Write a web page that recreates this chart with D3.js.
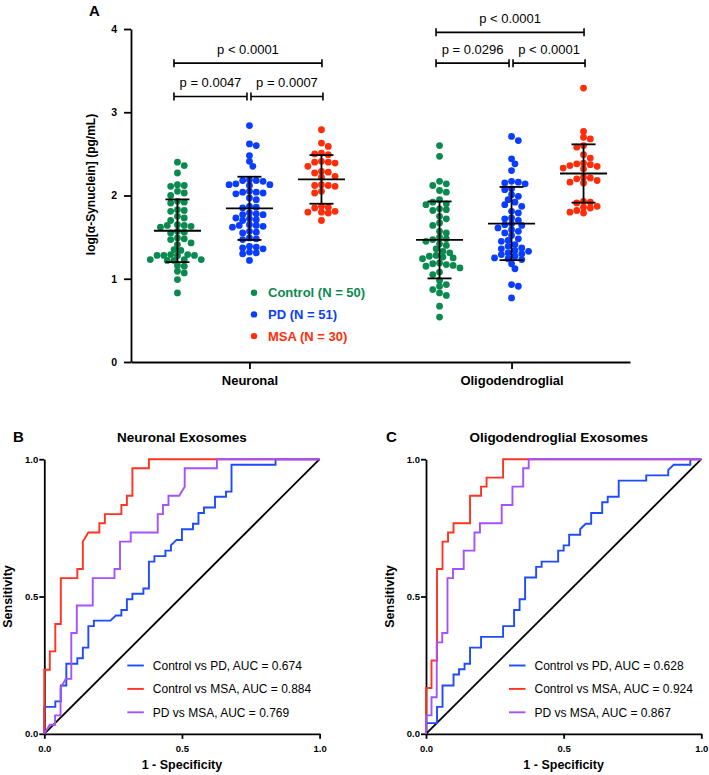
<!DOCTYPE html>
<html>
<head>
<meta charset="utf-8">
<script src="https://cdn.jsdelivr.net/npm/d3@7"></script>
<style>
  body { margin: 0; background: #fff; }
  text { white-space: pre; }
</style>
</head>
<body>
<svg class="chart" width="709" height="775"></svg>
<script>
var regions = ["Neuronal", "Oligodendroglial"];
var cohorts = ["Control", "PD", "MSA"];

// log[a-Synuclein] per subject (panel A)
var neuronalControl = [2.40, 2.36, 2.27, 2.13, 2.12, 2.11, 2.05, 2.03, 2.00, 1.93,
    1.92, 1.91, 1.83, 1.82, 1.81, 1.75, 1.73, 1.70, 1.65, 1.64,
    1.64, 1.63, 1.62, 1.57, 1.56, 1.55, 1.49, 1.48, 1.47, 1.43,
    1.41, 1.35, 1.34, 1.29, 1.29, 1.28, 1.28, 1.28, 1.28, 1.23,
    1.23, 1.23, 1.22, 1.22, 1.16, 1.15, 1.09, 1.07, 0.99, 0.83];
var neuronalPD = [2.84, 2.62, 2.60, 2.48, 2.41, 2.35, 2.19, 2.18, 2.18, 2.17,
    2.14, 2.13, 2.13, 2.12, 2.05, 2.04, 2.04, 2.03, 2.02, 1.97,
    1.95, 1.87, 1.86, 1.85, 1.79, 1.78, 1.77, 1.77, 1.73, 1.72,
    1.71, 1.70, 1.65, 1.64, 1.64, 1.63, 1.62, 1.57, 1.56, 1.55,
    1.49, 1.48, 1.47, 1.39, 1.38, 1.37, 1.36, 1.32, 1.31, 1.30, 1.22];
var neuronalMSA = [2.79, 2.63, 2.59, 2.51, 2.50, 2.49, 2.41, 2.40, 2.40, 2.39,
    2.35, 2.29, 2.28, 2.27, 2.23, 2.22, 2.13, 2.12, 2.12, 2.11,
    2.05, 2.03, 1.87, 1.86, 1.85, 1.81, 1.80, 1.80, 1.79, 1.70];
var oligoControl = [2.60, 2.47, 2.17, 2.14, 2.12, 2.06, 2.04, 1.95, 1.92, 1.90,
    1.89, 1.84, 1.83, 1.82, 1.75, 1.72, 1.67, 1.64, 1.57, 1.55,
    1.50, 1.48, 1.47, 1.45, 1.42, 1.40, 1.36, 1.33, 1.31, 1.28,
    1.27, 1.26, 1.25, 1.24, 1.19, 1.18, 1.17, 1.16, 1.15, 1.13,
    1.08, 1.05, 0.98, 0.93, 0.91, 0.87, 0.83, 0.80, 0.67, 0.54];
var oligoPD = [2.71, 2.66, 2.44, 2.38, 2.30, 2.17, 2.16, 2.15, 2.14, 2.08,
    2.07, 2.01, 1.99, 1.95, 1.92, 1.89, 1.87, 1.81, 1.79, 1.73,
    1.72, 1.70, 1.66, 1.65, 1.64, 1.61, 1.59, 1.57, 1.55, 1.52,
    1.48, 1.46, 1.45, 1.41, 1.39, 1.37, 1.36, 1.34, 1.33, 1.29,
    1.30, 1.31, 1.27, 1.25, 1.24, 1.23, 1.18, 1.12, 0.93, 0.91, 0.77];
var oligoMSA = [3.29, 2.77, 2.70, 2.68, 2.60, 2.58, 2.49, 2.45, 2.39, 2.38,
    2.37, 2.33, 2.32, 2.36, 2.35, 2.21, 2.16, 2.15, 2.22, 2.20,
    2.18, 1.93, 1.92, 1.91, 1.87, 1.86, 1.85, 1.82, 1.80, 1.79];

var yTicksA = [0, 1, 2, 3, 4];
var pNeuronal = ["p = 0.0047", "p = 0.0007", "p < 0.0001"];
var pOligo = ["p = 0.0296", "p < 0.0001", "p < 0.0001"];

// ROC points [1 - specificity, sensitivity] (panels B, C)
var rocTicks = [0, 0.5, 1];
var comparisons = ["Control vs PD", "Control vs MSA", "PD vs MSA"];
var aucNeuronal = [0.674, 0.884, 0.769];
var aucOligo = [0.628, 0.924, 0.867];

var rocNeuCtrlPD = [[0, 0], [0, 0.098], [0.04, 0.098], [0.04, 0.118], [0.06, 0.118], [0.06, 0.176],
    [0.08, 0.176], [0.08, 0.255], [0.12, 0.255], [0.12, 0.275], [0.14, 0.275], [0.14, 0.314],
    [0.16, 0.314], [0.16, 0.392], [0.18, 0.392], [0.18, 0.412], [0.24, 0.412], [0.26, 0.431],
    [0.28, 0.431], [0.28, 0.451], [0.30, 0.451], [0.30, 0.49], [0.32, 0.49], [0.32, 0.51],
    [0.36, 0.51], [0.36, 0.529], [0.38, 0.529], [0.38, 0.627], [0.40, 0.627], [0.40, 0.647],
    [0.44, 0.647], [0.44, 0.667], [0.46, 0.667], [0.46, 0.686], [0.48, 0.706], [0.50, 0.706],
    [0.50, 0.745], [0.54, 0.745], [0.54, 0.765], [0.56, 0.765], [0.56, 0.804], [0.58, 0.804],
    [0.58, 0.824], [0.62, 0.824], [0.62, 0.863], [0.66, 0.863], [0.66, 0.882], [0.68, 0.882],
    [0.68, 0.98], [0.84, 0.98], [0.84, 1], [1, 1]];
var rocNeuCtrlMSA = [[0, 0], [0, 0.233], [0.02, 0.233], [0.02, 0.3], [0.04, 0.3], [0.04, 0.4],
    [0.06, 0.4], [0.06, 0.567], [0.12, 0.567], [0.12, 0.6], [0.14, 0.6], [0.14, 0.7],
    [0.16, 0.733], [0.20, 0.733], [0.20, 0.767], [0.22, 0.767], [0.22, 0.8], [0.28, 0.8],
    [0.28, 0.833], [0.30, 0.833], [0.30, 0.867], [0.32, 0.867], [0.32, 0.967], [0.38, 0.967],
    [0.38, 1], [1, 1]];
var rocNeuPDMSA = [[0, 0], [0.02, 0.033], [0.039, 0.033], [0.039, 0.067], [0.059, 0.067],
    [0.059, 0.167], [0.078, 0.2], [0.098, 0.2], [0.098, 0.367], [0.118, 0.367], [0.118, 0.467],
    [0.176, 0.467], [0.176, 0.567], [0.255, 0.567], [0.255, 0.6], [0.275, 0.6], [0.275, 0.7],
    [0.314, 0.7], [0.314, 0.733], [0.412, 0.733], [0.412, 0.8], [0.431, 0.8], [0.431, 0.833],
    [0.451, 0.833], [0.451, 0.867], [0.49, 0.867], [0.51, 0.9], [0.51, 0.967], [0.627, 0.967],
    [0.627, 1], [1, 1]];
var rocOliCtrlPD = [[0, 0], [0, 0.039], [0.04, 0.039], [0.04, 0.098], [0.06, 0.098], [0.06, 0.176],
    [0.10, 0.176], [0.10, 0.216], [0.12, 0.216], [0.12, 0.235], [0.14, 0.235], [0.14, 0.255],
    [0.16, 0.255], [0.16, 0.314], [0.20, 0.314], [0.20, 0.353], [0.28, 0.353], [0.28, 0.392],
    [0.32, 0.392], [0.32, 0.451], [0.34, 0.451], [0.34, 0.49], [0.36, 0.49], [0.36, 0.569],
    [0.40, 0.569], [0.40, 0.608], [0.42, 0.608], [0.42, 0.627], [0.48, 0.627], [0.48, 0.667],
    [0.50, 0.667], [0.50, 0.686], [0.52, 0.686], [0.52, 0.725], [0.56, 0.725], [0.56, 0.745],
    [0.58, 0.765], [0.60, 0.765], [0.60, 0.804], [0.64, 0.804], [0.64, 0.843], [0.66, 0.843],
    [0.66, 0.863], [0.70, 0.863], [0.70, 0.922], [0.80, 0.922], [0.80, 0.941], [0.88, 0.941],
    [0.88, 0.961], [0.90, 0.98], [0.96, 0.98], [0.96, 1], [1, 1]];
var rocOliCtrlMSA = [[0, 0], [0, 0.167], [0.02, 0.167], [0.02, 0.267], [0.04, 0.267], [0.04, 0.6],
    [0.06, 0.6], [0.06, 0.7], [0.08, 0.7], [0.08, 0.733], [0.10, 0.733], [0.10, 0.767],
    [0.16, 0.767], [0.16, 0.867], [0.20, 0.867], [0.20, 0.9], [0.22, 0.9], [0.22, 0.933],
    [0.28, 0.933], [0.28, 1], [1, 1]];
var rocOliPDMSA = [[0, 0], [0, 0.067], [0.02, 0.067], [0.02, 0.133], [0.039, 0.133], [0.039, 0.333],
    [0.059, 0.333], [0.059, 0.367], [0.078, 0.367], [0.078, 0.567], [0.098, 0.567], [0.098, 0.6],
    [0.137, 0.6], [0.137, 0.667], [0.176, 0.667], [0.176, 0.733], [0.196, 0.733], [0.196, 0.767],
    [0.275, 0.767], [0.275, 0.833], [0.314, 0.833], [0.314, 0.9], [0.353, 0.9], [0.353, 0.967],
    [0.373, 0.967], [0.373, 1], [1, 1]];
var chanceLine = [[0, 0], [1, 1]];

function show() {
    'use strict';

    var font = '"Liberation Sans", Arial, Helvetica, sans-serif';
    var svg = d3.select(".chart").attr("font-family", font);

    var color = d3.scaleOrdinal().domain(cohorts)
        .range(["#0b8a50", "#0a3dff", "#ff2d0a"]);
    var rocColor = ["#1f4bff", "#ff3320", "#a452ff"];

    function styleAxis(g, size) {
        g.select(".domain").attr("stroke", "#000").attr("stroke-width", 1.8);
        g.selectAll(".tick line").attr("stroke", "#000").attr("stroke-width", 1.8);
        g.selectAll(".tick text")
            .attr("font-family", font)
            .attr("font-weight", "bold")
            .attr("font-size", size)
            .attr("fill", "#000");
    }

    // swarm on a half-diameter grid; neighbours may overlap a little,
    // new dots go to the less crowded side
    function swarm(values, y, d) {
        var pts = values.map(function (v) { return { v: v, y: y(v), dx: 0 }; })
            .sort(function (a, b) { return b.v - a.v; });
        var placed = [];
        var minDist = 0.8 * d;
        function free(p, dx) {
            return !placed.some(function (q) {
                var ex = q.dx - dx, ey = q.y - p.y;
                return ex * ex + ey * ey < minDist * minDist;
            });
        }
        function crowd(p, sign) {
            return placed.filter(function (q) {
                return Math.abs(q.y - p.y) < 2 * d && q.dx * sign > 0;
            }).length;
        }
        pts.forEach(function (p) {
            if (free(p, 0)) { p.dx = 0; placed.push(p); return; }
            for (var k = 1; k < 60; k++) {
                var off = k * d / 2;
                var r = free(p, off), l = free(p, -off);
                if (r && l) {
                    p.dx = crowd(p, 1) <= crowd(p, -1) ? off : -off;
                    break;
                }
                if (r) { p.dx = off; break; }
                if (l) { p.dx = -off; break; }
            }
            placed.push(p);
        });
        return pts;
    }

    // ---------- panel A ----------
    var y = d3.scaleLinear().domain([0, 4]).range([362, 29]);
    var xRegion = d3.scalePoint().domain(regions).range([131, 630]).padding(0.452);
    var xCohort = d3.scalePoint().domain(cohorts).range([-72, 72]);
    var panelA = svg.append("g");

    var yAxis = panelA.append("g")
        .attr("transform", "translate(131,0)")
        .call(d3.axisLeft(y).tickValues(yTicksA).tickFormat(d3.format("d"))
            .tickSize(7).tickSizeOuter(0).tickPadding(7));
    styleAxis(yAxis, 10.5);

    var xAxis = panelA.append("g")
        .attr("transform", "translate(0,362)")
        .call(d3.axisBottom(xRegion).tickSize(7).tickSizeOuter(0).tickPadding(7));
    styleAxis(xAxis, 13);

    panelA.append("text")
        .attr("transform", "translate(95," + (y(2) - 11) + ") rotate(-90)")
        .attr("text-anchor", "middle")
        .attr("font-weight", "bold")
        .attr("font-size", 12)
        .text("log[α-Synuclein] (pg/mL)");

    panelA.append("text")
        .attr("x", 89).attr("y", 15.5)
        .attr("font-weight", "bold").attr("font-size", 15)
        .text("A");

    var seriesA = [[neuronalControl, neuronalPD, neuronalMSA], [oligoControl, oligoPD, oligoMSA]];

    regions.forEach(function (region, ri) {
        cohorts.forEach(function (cohort, ci) {
            var values = seriesA[ri][ci];
            var cx = xRegion(region) + xCohort(cohort);
            var pts = swarm(values, y, 6.8);

            panelA.append("g").selectAll("circle").data(pts).enter()
                .append("circle")
                .attr("cx", function (d) { return cx + d.dx; })
                .attr("cy", function (d) { return d.y; })
                .attr("r", 3.4)
                .attr("fill", color(cohort));

            var m = d3.mean(values), sd = d3.deviation(values);
            var bars = panelA.append("g").attr("stroke", "#000").attr("stroke-width", 1.8);
            bars.append("line")
                .attr("x1", cx).attr("x2", cx)
                .attr("y1", y(m - sd)).attr("y2", y(m + sd));
            bars.append("line")
                .attr("x1", cx - 23.5).attr("x2", cx + 23.5)
                .attr("y1", y(m)).attr("y2", y(m));
            [m - sd, m + sd].forEach(function (v) {
                bars.append("line")
                    .attr("x1", cx - 12).attr("x2", cx + 12)
                    .attr("y1", y(v)).attr("y2", y(v));
            });
        });
    });

    // significance brackets
    function bracket(g, x1, x2, yy, label) {
        var b = g.append("g").attr("stroke", "#000").attr("stroke-width", 1.6);
        b.append("line").attr("x1", x1).attr("x2", x2).attr("y1", yy).attr("y2", yy);
        b.append("line").attr("x1", x1).attr("x2", x1).attr("y1", yy - 4).attr("y2", yy + 4);
        b.append("line").attr("x1", x2).attr("x2", x2).attr("y1", yy - 4).attr("y2", yy + 4);
        g.append("text")
            .attr("x", (x1 + x2) / 2).attr("y", yy - 9)
            .attr("text-anchor", "middle")
            .attr("font-size", 13)
            .text(label);
    }

    var pLabels = [pNeuronal, pOligo];
    var levels = [[3.19, 3.59], [3.59, 3.96]];
    regions.forEach(function (region, ri) {
        var c = cohorts.map(function (k) { return xRegion(region) + xCohort(k); });
        bracket(panelA, c[0] - 3.5, c[1] - 2.5, y(levels[ri][0]), pLabels[ri][0]);
        bracket(panelA, c[1] + 1.5, c[2] + 1.5, y(levels[ri][0]), pLabels[ri][1]);
        bracket(panelA, c[0] - 3.5, c[2] + 0.5, y(levels[ri][1]), pLabels[ri][2]);
    });

    // legend
    cohorts.forEach(function (k, i) {
        var ly = 292.7 + i * 21.7;
        panelA.append("circle").attr("cx", 254).attr("cy", ly).attr("r", 3.2).attr("fill", color(k));
        panelA.append("text")
            .attr("x", 268).attr("y", ly + 4.6)
            .attr("font-weight", "bold").attr("font-size", 13)
            .attr("fill", color(k))
            .text(k + " (N = " + seriesA[0][i].length + ")");
    });

    // ---------- panels B, C ----------
    function rocPanel(x0, letter, letterX, title, titleDx, curves, aucs) {
        var g = svg.append("g");
        var x = d3.scaleLinear().domain([0, 1]).range([x0, x0 + 275.3]);
        var yr = d3.scaleLinear().domain([0, 1]).range([733.8, 459.2]);
        var fmt = d3.format(".1f");

        var ya = g.append("g").attr("transform", "translate(" + x0 + ",0)")
            .call(d3.axisLeft(yr).tickValues(rocTicks).tickFormat(fmt)
                .tickSize(5).tickSizeOuter(0).tickPadding(1));
        styleAxis(ya, 9.5);
        var xa = g.append("g").attr("transform", "translate(0,733.8)")
            .call(d3.axisBottom(x).tickValues(rocTicks).tickFormat(fmt)
                .tickSize(5).tickSizeOuter(0).tickPadding(6));
        styleAxis(xa, 9.5);

        var mid = x(0.5);
        g.append("text").attr("x", mid).attr("y", 769)
            .attr("text-anchor", "middle").attr("font-weight", "bold").attr("font-size", 12.5)
            .text("1 - Specificity");
        g.append("text")
            .attr("transform", "translate(" + (x0 - 32.5) + "," + yr(0.5) + ") rotate(-90)")
            .attr("text-anchor", "middle").attr("font-weight", "bold").attr("font-size", 12.5)
            .text("Sensitivity");
        g.append("text").attr("x", mid + titleDx).attr("y", 442)
            .attr("text-anchor", "middle").attr("font-weight", "bold").attr("font-size", 13.5)
            .text(title);
        g.append("text").attr("x", letterX).attr("y", 442)
            .attr("font-weight", "bold").attr("font-size", 15)
            .text(letter);

        var line = d3.line()
            .x(function (d) { return x(d[0]); })
            .y(function (d) { return yr(d[1]); });

        g.append("path").attr("d", line(chanceLine))
            .attr("fill", "none").attr("stroke", "#000").attr("stroke-width", 1.8);

        curves.forEach(function (pts, i) {
            g.append("path").attr("d", line(pts))
                .attr("fill", "none")
                .attr("stroke", rocColor[i])
                .attr("stroke-width", 1.9)
                .attr("stroke-linejoin", "miter");
        });

        comparisons.forEach(function (name, i) {
            var ly = 665.5 + i * 23.4;
            g.append("line")
                .attr("x1", x0 + 83).attr("x2", x0 + 99.5)
                .attr("y1", ly).attr("y2", ly)
                .attr("stroke", rocColor[i]).attr("stroke-width", 1.9);
            g.append("text")
                .attr("x", x0 + 108.5).attr("y", ly + 4.3)
                .attr("font-size", 12)
                .text(name + ", AUC = " + d3.format(".3f")(aucs[i]));
        });
    }

    rocPanel(44.3, "B", 13, "Neuronal Exosomes", 0,
        [rocNeuCtrlPD, rocNeuCtrlMSA, rocNeuPDMSA], aucNeuronal);
    rocPanel(426, "C", 386, "Oligodendroglial Exosomes", -5,
        [rocOliCtrlPD, rocOliCtrlMSA, rocOliPDMSA], aucOligo);
}

show();
</script>
</body>
</html>
